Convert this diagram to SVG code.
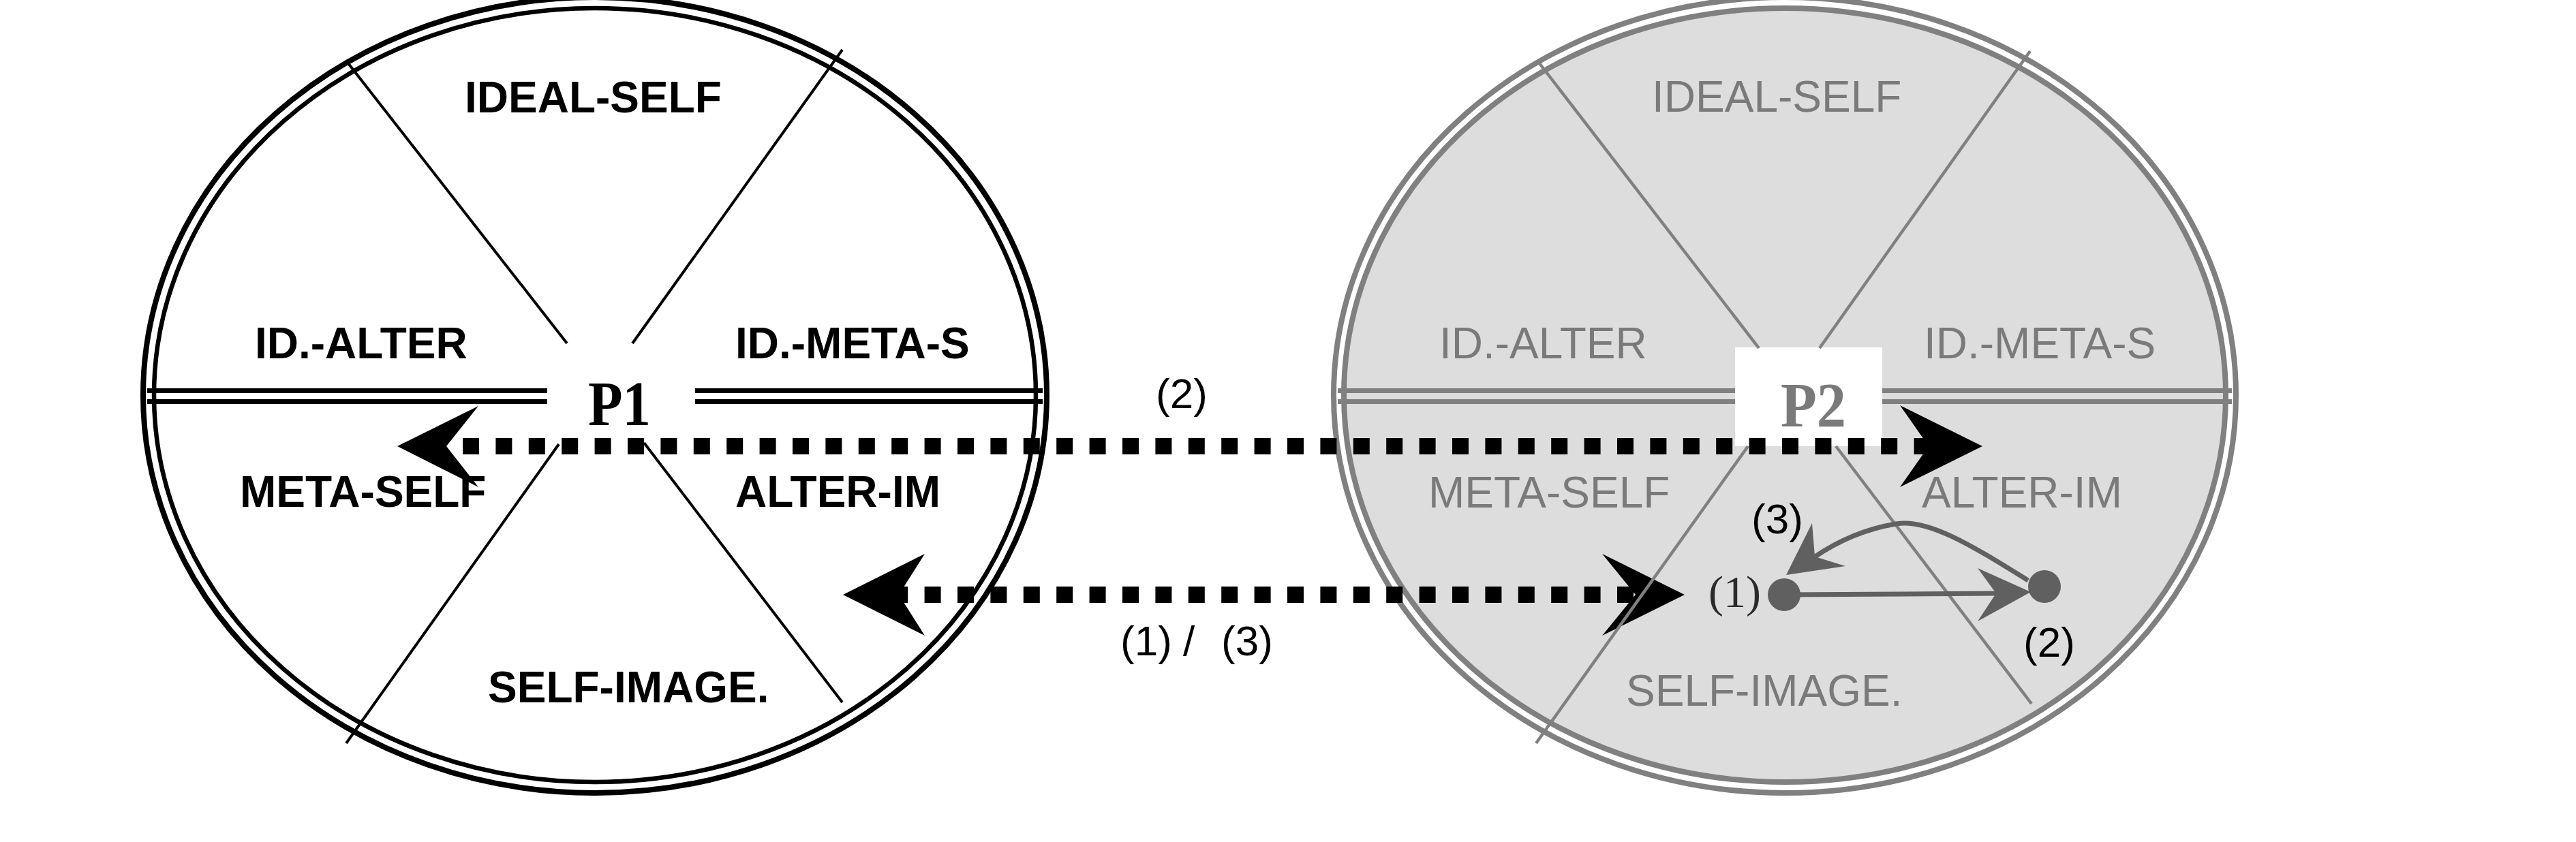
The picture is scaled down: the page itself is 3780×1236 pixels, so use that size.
<svg xmlns="http://www.w3.org/2000/svg" width="3780" height="1236" viewBox="0 0 3780 1236">
<style>
.bl{font-family:"Liberation Sans",Arial,sans-serif;font-weight:bold;font-size:64px;fill:#000}
.gl{font-family:"Liberation Sans",Arial,sans-serif;font-size:64px;fill:#7a7a7a}
.num{font-family:"Liberation Sans",Arial,sans-serif;font-size:62px;fill:#000}
.ser{font-family:"Liberation Serif","Times New Roman",serif}
.bspoke{stroke:#000;stroke-width:4;fill:none}
.gspoke{stroke:#808080;stroke-width:4.5;fill:none}
.dots{stroke:#000;stroke-width:24;stroke-dasharray:24 24.4;fill:none}
.ah{fill:#000}
.net{stroke:#606060;stroke-width:7;fill:none}
</style>
<rect width="3780" height="1236" fill="#fff"/>

<g id="P1-circle">
  <ellipse cx="873" cy="580" rx="663" ry="584" fill="#fff" stroke="#000" stroke-width="8"/>
  <ellipse cx="873" cy="580" rx="647" ry="568" fill="none" stroke="#000" stroke-width="6.5"/>
  <line x1="216" y1="573.5" x2="803" y2="573.5" stroke="#000" stroke-width="7"/>
  <line x1="216" y1="589.5" x2="803" y2="589.5" stroke="#000" stroke-width="7"/>
  <line x1="1020" y1="573.5" x2="1530" y2="573.5" stroke="#000" stroke-width="7"/>
  <line x1="1020" y1="589.5" x2="1530" y2="589.5" stroke="#000" stroke-width="7"/>
</g>

<g id="P2-circle">
  <ellipse cx="2619" cy="580" rx="662" ry="584" fill="#fff" stroke="#808080" stroke-width="8"/>
  <ellipse cx="2619" cy="580" rx="647" ry="568" fill="#dddddd" stroke="#808080" stroke-width="8"/>
  <line x1="1963" y1="573.5" x2="3275" y2="573.5" stroke="#808080" stroke-width="7"/>
  <line x1="1963" y1="589.5" x2="3275" y2="589.5" stroke="#808080" stroke-width="7"/>
  <rect x="2546" y="510" width="216" height="145" fill="#fff"/>
</g>

<g id="connectors">
  <line class="dots" x1="679" y1="655" x2="2834" y2="655"/>
  <polygon class="ah" points="583,655 702,596 655,655 702,715"/>
  <polygon class="ah" points="2909,655 2788,595 2830,655 2788,715"/>
  <line class="dots" x1="1319" y1="873" x2="2400" y2="873" stroke-dashoffset="10.8"/>
  <polygon class="ah" points="1237,873 1357,813 1319,873 1357,933"/>
  <polygon class="ah" points="2472,873 2351,813 2400,873 2351,933"/>
</g>

<g id="P1-spokes">
  <line class="bspoke" x1="511" y1="93" x2="832" y2="504"/>
  <line class="bspoke" x1="1236" y1="73" x2="928" y2="504"/>
  <line class="bspoke" x1="820" y1="652" x2="508" y2="1091"/>
  <line class="bspoke" x1="945" y1="650" x2="1236" y2="1031"/>
</g>

<g id="P2-spokes">
  <line class="gspoke" x1="2259" y1="93" x2="2581" y2="511"/>
  <line class="gspoke" x1="2979" y1="75" x2="2670" y2="511"/>
  <line class="gspoke" x1="2565" y1="655" x2="2254" y2="1091"/>
  <line class="gspoke" x1="2694" y1="655" x2="2981" y2="1033"/>
</g>

<g id="P1-labels">
  <text class="bl" x="682" y="165">IDEAL-SELF</text>
  <text class="bl" x="374" y="526">ID.-ALTER</text>
  <text class="bl" x="1079" y="526">ID.-META-S</text>
  <text class="bl" x="352" y="744">META-SELF</text>
  <text class="bl" x="1079" y="744">ALTER-IM</text>
  <text class="bl" x="716" y="1031">SELF-IMAGE.</text>
  <text class="ser" x="863" y="624" font-size="93" font-weight="bold" fill="#000" textLength="92" lengthAdjust="spacingAndGlyphs">P1</text>
</g>

<g id="P2-labels">
  <text class="gl" x="2424" y="164">IDEAL-SELF</text>
  <text class="gl" x="2112" y="526">ID.-ALTER</text>
  <text class="gl" x="2823" y="526">ID.-META-S</text>
  <text class="gl" x="2096" y="745">META-SELF</text>
  <text class="gl" x="2820" y="745">ALTER-IM</text>
  <text class="gl" x="2386" y="1036">SELF-IMAGE.</text>
  <text class="ser" x="2613" y="626" font-size="93" font-weight="bold" fill="#7a7a7a" textLength="96" lengthAdjust="spacingAndGlyphs">P2</text>
</g>

<g id="connector-labels">
  <text class="num" x="1696" y="599">(2)</text>
  <text class="num" y="962"><tspan x="1644">(1)</tspan><tspan x="1736">/</tspan><tspan x="1792">(3)</tspan></text>
</g>

<g id="node-1">
  <circle cx="2618" cy="873" r="24" fill="#606060"/>
  <text class="ser" x="2507" y="891" font-size="66" fill="#2a2a2a">(1)</text>
</g>
<g id="node-2">
  <circle cx="3000" cy="861" r="24" fill="#606060"/>
  <text class="num" x="2969" y="964" fill="#2a2a2a" font-size="63">(2)</text>
</g>
<g id="net-connectors">
  <line class="net" x1="2618" y1="873" x2="2935" y2="871"/>
  <polygon fill="#606060" points="2980,869 2902,834 2929,871 2902,912"/>
  <path class="net" d="M2976,852 C2900,805 2830,760 2782,769 C2740,776 2700,792 2662,818"/>
  <polygon fill="#606060" points="2621,844 2659,768 2663,817 2708,831"/>
  <text class="num" x="2570" y="783" fill="#1a1a1a">(3)</text>
</g>
</svg>
